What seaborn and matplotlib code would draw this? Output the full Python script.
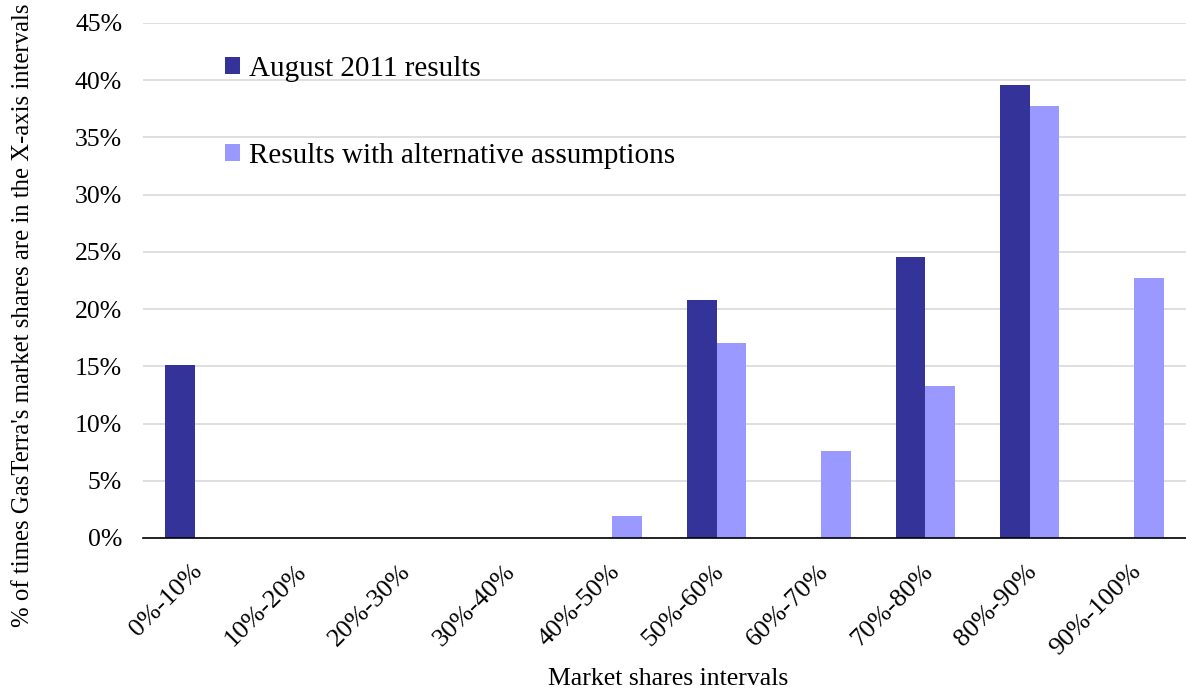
import matplotlib
matplotlib.use("Agg")
import matplotlib.pyplot as plt
from matplotlib.ticker import FixedLocator, PercentFormatter
from matplotlib.transforms import ScaledTranslation
import seaborn as sns
import pandas as pd

categories = ["0%-10%", "10%-20%", "20%-30%", "30%-40%", "40%-50%",
              "50%-60%", "60%-70%", "70%-80%", "80%-90%", "90%-100%"]
august_2011 = [15.1, 0, 0, 0, 0, 20.8, 0, 24.55, 39.6, 0]
alternative = [0, 0, 0, 0, 1.9, 17.0, 7.6, 13.25, 37.75, 22.7]
series_names = ["August 2011 results", "Results with alternative assumptions"]
colors = ["#333399", "#9999FF"]

df = pd.DataFrame({
    "interval": categories * 2,
    "value": august_2011 + alternative,
    "series": [series_names[0]] * len(categories) + [series_names[1]] * len(categories),
})

sns.set_theme(style="white")
plt.rcParams["font.family"] = ["Liberation Serif", "DejaVu Serif"]
plt.rcParams["text.color"] = "black"
plt.rcParams["axes.labelcolor"] = "black"
plt.rcParams["xtick.color"] = "black"
plt.rcParams["ytick.color"] = "black"

fig = plt.figure(figsize=(11.86, 6.9), dpi=100)
ax = fig.add_axes([0.1206, 0.2203, 0.8794, 0.7464])

sns.barplot(data=df, x="interval", y="value", hue="series", order=categories,
            hue_order=series_names, palette=colors, width=0.57, dodge=True,
            saturation=1, linewidth=0, ax=ax)

ax.set_xlim(-0.5, len(categories) - 0.5)
ax.set_ylim(0, 45)
ax.set_yticks(range(0, 46, 5))
ax.yaxis.set_major_formatter(PercentFormatter(decimals=0))
ax.grid(axis="y", color="#d9d9d9", linewidth=1.2)
ax.set_axisbelow(True)

for side in ["left", "right", "top"]:
    ax.spines[side].set_visible(False)
ax.spines["bottom"].set_color("black")
ax.spines["bottom"].set_linewidth(1.2)

ax.tick_params(axis="y", length=0, pad=15, labelsize=18.5, labelcolor="black")
ax.tick_params(axis="x", which="major", length=0, pad=16, labelsize=19,
               labelcolor="black")
ax.xaxis.set_minor_locator(FixedLocator([i - 0.5 for i in range(len(categories) + 1)]))
ax.tick_params(axis="x", which="minor", length=8, color="#999999", width=1)
shift = ScaledTranslation(-4 / 100, 0, fig.dpi_scale_trans)
for lab in ax.get_xticklabels():
    lab.set_rotation(45)
    lab.set_ha("right")
    lab.set_rotation_mode("anchor")
    lab.set_transform(lab.get_transform() + shift)

ax.set_xlabel("Market shares intervals", fontsize=18.5, color="black")
ax.xaxis.set_label_coords(0.503, -0.252)
ax.set_ylabel("% of times GasTerra's market shares are in the X-axis intervals",
              fontsize=17.8, color="black")
ax.yaxis.set_label_coords(-0.105, 0.433)

leg = ax.legend(loc="upper left", bbox_to_anchor=(0.0786, 0.936), frameon=False,
                fontsize=21, handlelength=0.51, handleheight=0.51,
                handletextpad=0.3, labelspacing=2.1, borderaxespad=0,
                borderpad=0)
for t in leg.get_texts():
    t.set_color("black")

fig.savefig("out.png", dpi=100)
